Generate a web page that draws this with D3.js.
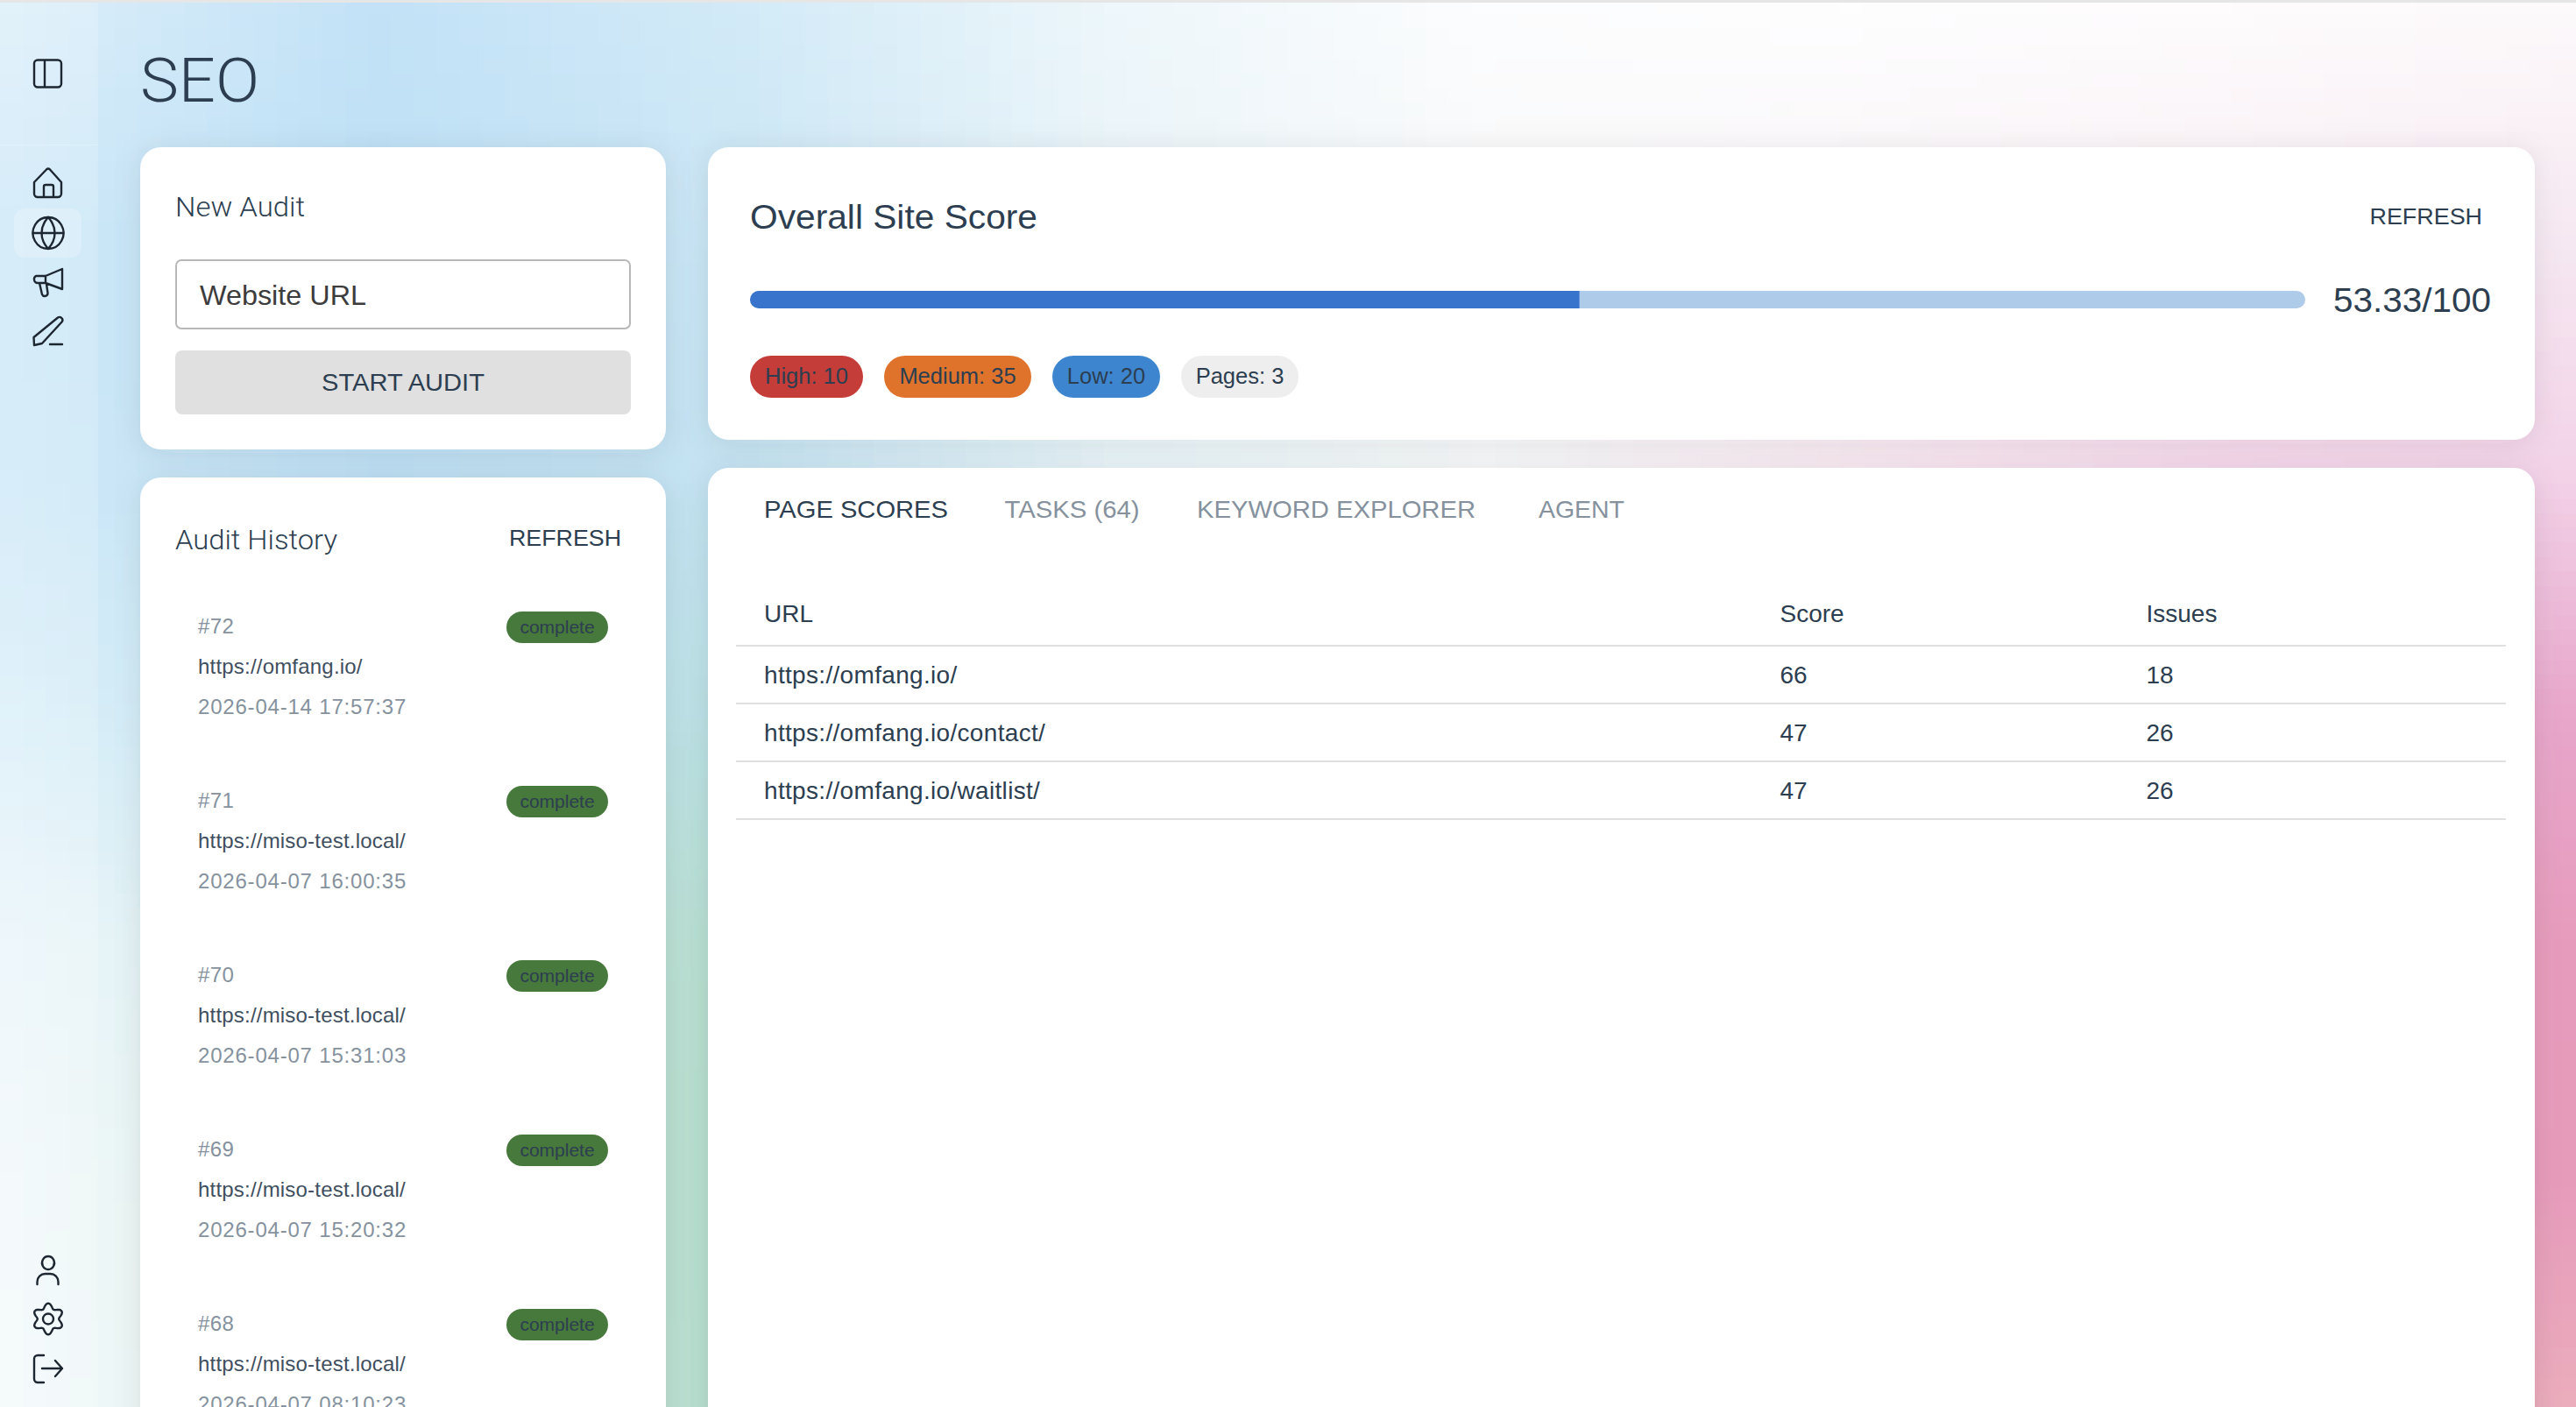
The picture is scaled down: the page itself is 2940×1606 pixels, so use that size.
<!DOCTYPE html>
<html><head><meta charset="utf-8">
<script src="https://cdn.jsdelivr.net/npm/d3@7"></script>
<style>
html,body{margin:0;padding:0;width:2940px;height:1606px;overflow:hidden;background:#fff}
svg{display:block}
text{font-family:"Liberation Sans",Arial,sans-serif;font-kerning:normal}
.light{font-family:Roboto,"Liberation Sans",sans-serif;font-weight:300}
</style></head><body>
<svg id="c" width="2940" height="1606" xmlns="http://www.w3.org/2000/svg"></svg>
<script>
// ---- data ----
const auditIds = ["#72","#71","#70","#69","#68"];
const auditUrls = ["https://omfang.io/","https://miso-test.local/","https://miso-test.local/","https://miso-test.local/","https://miso-test.local/"];
const auditDates = ["2026-04-14 17:57:37","2026-04-07 16:00:35","2026-04-07 15:31:03","2026-04-07 15:20:32","2026-04-07 08:10:23"];
const auditStatus = ["complete","complete","complete","complete","complete"];
const overallScore = 53.33;
const chipLabels = ["High: 10","Medium: 35","Low: 20","Pages: 3"];
const chipColors = ["#c43d38","#df732c","#3d86cf","#eeeeee"];
const tabLabels = ["PAGE SCORES","TASKS (64)","KEYWORD EXPLORER","AGENT"];
const tableHeaders = ["URL","Score","Issues"];
const pageUrls = ["https://omfang.io/","https://omfang.io/contact/","https://omfang.io/waitlist/"];
const pageScores = [66,47,47];
const pageIssues = [18,26,26];
// page backdrop colours, sampled on a coarse grid (8 columns, 7 rows)
const backdrop = [
 ["#dcEFfA","#c3e2f7","#d3ebf8","#eef7fb","#fcfdfe","#fefeff","#fefcfd","#fdfafb"],
 ["#cde8f8","#bde0f6","#cbe6f5","#e9f4f9","#f9f9fa","#faf5f8","#f9eff5","#f6e8f2"],
 ["#cfe9f8","#bddff4","#c5e3f2","#e7f4f8","#f6f8f9","#f8e8f1","#f5d6ea","#f3d2e8"],
 ["#daeff9","#c6e6f3","#bae0e3","#d0e8e8","#e8e0e8","#eed0e0","#eab8d4","#e8a6cb"],
 ["#ebf6fa","#d9eef0","#b3dccd","#cfe0d8","#e2c8d4","#e8b4cc","#e8a6c4","#e79bbc"],
 ["#f2f9fb","#dcefe8","#b1dccb","#cfdcd4","#e2c4d0","#e8b0c8","#e8a2c0","#e79bbb"],
 ["#f4fafc","#e0f0ea","#b2dccc","#d0dcd4","#e4c6d0","#e9b4c8","#eaa8c0","#ecaebc"]
];

const ink="#2c3e50", grey="#85929e";
const svg=d3.select("#c"), defs=svg.append("defs");

// ---- background: the grid is painted one pixel per sample and stretched smoothly ----
const nCols=backdrop[0].length, nRows=backdrop.length;
const cv=document.createElement("canvas"); cv.width=nCols; cv.height=nRows;
const cx=cv.getContext("2d");
backdrop.forEach((r,j)=>r.forEach((c,i)=>{cx.fillStyle=c;cx.fillRect(i,j,1,1);}));
const cellW=2940/(nCols-1), cellH=1606/(nRows-1);
svg.append("image").attr("href",cv.toDataURL()).attr("preserveAspectRatio","none")
  .attr("x",-cellW/2).attr("y",-cellH/2).attr("width",nCols*cellW).attr("height",nRows*cellH);
svg.append("rect").attr("width",2940).attr("height",3).attr("fill","#e6e6e6");

// ---- sidebar ----
svg.append("rect").attr("y",3).attr("width",112).attr("height",1603).attr("fill","#fff").attr("opacity",.18);
svg.append("rect").attr("y",165).attr("width",112).attr("height",1).attr("fill","#fff").attr("opacity",.25);
svg.append("rect").attr("x",16).attr("y",238).attr("width",77).attr("height",56).attr("rx",12).attr("fill","#fff").attr("opacity",.22);
const iconG=svg.append("g").attr("fill","none").attr("stroke","#1d2731").attr("stroke-width",2.4).attr("stroke-linecap","round").attr("stroke-linejoin","round");
const iconPaths=[
 "M43 68.5h23a4 4 0 0 1 4 4v23a4 4 0 0 1-4 4h-23a4 4 0 0 1-4-4v-23a4 4 0 0 1 4-4zM51 68.5v31",
 "M39 208L53 193.5a3 3 0 0 1 4 0L70 208V221a4 4 0 0 1-4 4H43a4 4 0 0 1-4-4zM50 225V213a2 2 0 0 1 2-2h7a2 2 0 0 1 2 2v12",
 "M55 248a17.5 18 0 1 0 .01 0zM38 266H72M55 248c-10 11-10 25 0 36M55 248c10 11 10 25 0 36",
 "M41 315H52L71 307V330L52 323H43a4 4 0 0 1-4-4V319a4 4 0 0 1 2-4zM52 315V323M45 323L48 336a3.4 3.4 0 0 0 6.500-1.500L53 324",
 "M66 362.500a3.500 3.500 0 0 1 5 4.500L48 392L39 394L38.500 385zM57 393H71",
 "M55 1434a7 7.500 0 1 0 .01 0zM42.500 1466V1463a9 9 0 0 1 9-9h6a9 9 0 0 1 9 9v3",
 "M50 1547H43a4 4 0 0 0-4 4V1574a4 4 0 0 0 4 4H50M48 1562H71M63 1553L71 1562L63 1571"
];
iconG.selectAll("path.i").data(iconPaths).join("path").attr("class","i").attr("d",d=>d);
// gear outline
const petal=d3.lineRadial().curve(d3.curveLinearClosed);
iconG.append("path").attr("transform","translate(55,1505.500)")
  .attr("d",petal(d3.range(72).map(i=>{const a=i*Math.PI/36;return [a,15+2.8*Math.cos(6*a)];})));
iconG.append("circle").attr("cx",55).attr("cy",1505.500).attr("r",6);

// ---- cards ----
const flt=defs.append("filter").attr("id","sh").attr("x","-10%").attr("y","-10%").attr("width","120%").attr("height","120%");
flt.append("feDropShadow").attr("dx",0).attr("dy",4).attr("stdDeviation",16).attr("flood-color","#334").attr("flood-opacity",.09);
const cards=[[160,168,600,345],[160,545,600,1200],[808,168,2085,334],[808,534,2085,1200]];
svg.append("g").selectAll("rect").data(cards).join("rect")
  .attr("x",d=>d[0]).attr("y",d=>d[1]).attr("width",d=>d[2]).attr("height",d=>d[3])
  .attr("rx",24).attr("fill","#fff").attr("filter","url(#sh)");

function T(txt,x,y,size,fill,opt={}){
  const t=svg.append("text").text(txt).attr("x",x).attr("y",y).attr("font-size",size).attr("fill",fill);
  if(opt.cls) t.attr("class",opt.cls);
  if(opt.len) t.attr("textLength",opt.len).attr("lengthAdjust","spacingAndGlyphs");
  if(opt.anchor) t.attr("text-anchor",opt.anchor);
  return t;
}
T("SEO",160,116,70,ink,{cls:"light",len:136});

// ---- new audit ----
T("New Audit",200,247,31,ink,{cls:"light",len:148});
svg.append("rect").attr("x",201).attr("y",297).attr("width",518).attr("height",78).attr("rx",6).attr("fill","#fff").attr("stroke","#b8b8b8").attr("stroke-width",2);
T("Website URL",228,348,32,"#3c3c3c",{len:190});
svg.append("rect").attr("x",200).attr("y",400).attr("width",520).attr("height",73).attr("rx",8).attr("fill","#e0e0e0");
T("START AUDIT",460,446,28,ink,{anchor:"middle",len:186});

// ---- audit history ----
T("Audit History",200,627,31,ink,{cls:"light",len:185});
T("REFRESH",581,623,26,ink,{len:128});
const yAudit=d3.scaleLinear().domain([0,1]).range([723,922]);
const hist=svg.append("g").selectAll("g").data(auditIds.map((id,i)=>({id,url:auditUrls[i],date:auditDates[i],st:auditStatus[i],i}))).join("g")
  .attr("transform",d=>`translate(0,${yAudit(d.i)})`);
hist.append("text").text(d=>d.id).attr("x",226).attr("font-size",24).attr("letter-spacing",.4).attr("fill",grey);
hist.append("text").text(d=>d.url).attr("x",226).attr("y",46).attr("font-size",24).attr("letter-spacing",.2).attr("fill","#3f4f60");
hist.append("text").text(d=>d.date).attr("x",226).attr("y",92).attr("font-size",24).attr("letter-spacing",.8).attr("fill",grey);
hist.append("rect").attr("x",578).attr("y",-25).attr("width",116).attr("height",36).attr("rx",18).attr("fill","#47783c");
hist.append("text").text(d=>d.st).attr("x",636).attr("y",0).attr("text-anchor","middle").attr("font-size",21).attr("fill",ink);

// ---- score ----
T("Overall Site Score",856,261,39,ink,{len:328});
T("REFRESH",2704.500,255.500,26,ink,{len:128.500});
const xScore=d3.scaleLinear().domain([0,100]).range([856,2631]);
const clip=defs.append("clipPath").attr("id","track");
clip.append("rect").attr("x",xScore(0)).attr("y",332).attr("width",xScore(100)-xScore(0)).attr("height",20).attr("rx",10);
const bar=svg.append("g").attr("clip-path","url(#track)");
bar.append("rect").attr("x",xScore(0)).attr("y",332).attr("width",xScore(100)-xScore(0)).attr("height",20).attr("fill","#aecbea");
bar.append("rect").attr("x",xScore(0)).attr("y",332).attr("width",xScore(overallScore)-xScore(0)).attr("height",20).attr("fill","#3874cb");
T(overallScore+"/100",2663,355.500,38,ink,{len:180});

// ---- chips ----
const chipX=[856,1009,1201,1348], chipW=[129,168,123,134];
const chips=svg.append("g").selectAll("g").data(chipLabels).join("g");
chips.append("rect").attr("x",(d,i)=>chipX[i]).attr("y",406).attr("width",(d,i)=>chipW[i]).attr("height",48).attr("rx",24).attr("fill",(d,i)=>chipColors[i]);
chips.append("text").text(d=>d).attr("x",(d,i)=>chipX[i]+chipW[i]/2).attr("y",438).attr("text-anchor","middle").attr("font-size",25.500).attr("fill",ink);

// ---- tabs ----
const tabX=[872,1146.500,1366,1756], tabW=[210,154,318,98];
svg.append("g").selectAll("text").data(tabLabels).join("text").text(d=>d)
  .attr("x",(d,i)=>tabX[i]).attr("y",591).attr("font-size",28)
  .attr("textLength",(d,i)=>tabW[i]).attr("lengthAdjust","spacingAndGlyphs")
  .attr("fill",(d,i)=>i?grey:ink);

// ---- table ----
const colX=d3.scaleOrdinal().domain(tableHeaders).range([872,2031.500,2449.500]);
const yRow=d3.scaleBand().domain(d3.range(3)).range([737,935]);
svg.append("g").selectAll("text").data(tableHeaders).join("text").text(d=>d)
  .attr("x",d=>colX(d)).attr("y",710).attr("font-size",28).attr("fill",ink);
svg.append("g").selectAll("line").data([0,1,2,3]).join("line")
  .attr("x1",840).attr("x2",2860)
  .attr("y1",d=>d<3?yRow(d):yRow(2)+yRow.bandwidth()).attr("y2",d=>d<3?yRow(d):yRow(2)+yRow.bandwidth())
  .attr("stroke","#e0e0e0").attr("stroke-width",2);
const rows=svg.append("g").selectAll("g").data(d3.range(3)).join("g").attr("transform",d=>`translate(0,${yRow(d)+43})`);
rows.append("text").text(d=>pageUrls[d]).attr("x",colX("URL")).attr("font-size",28).attr("letter-spacing",.32).attr("fill",ink);
rows.append("text").text(d=>pageScores[d]).attr("x",colX("Score")).attr("font-size",28).attr("fill",ink);
rows.append("text").text(d=>pageIssues[d]).attr("x",colX("Issues")).attr("font-size",28).attr("fill",ink);
</script>
</body></html>
